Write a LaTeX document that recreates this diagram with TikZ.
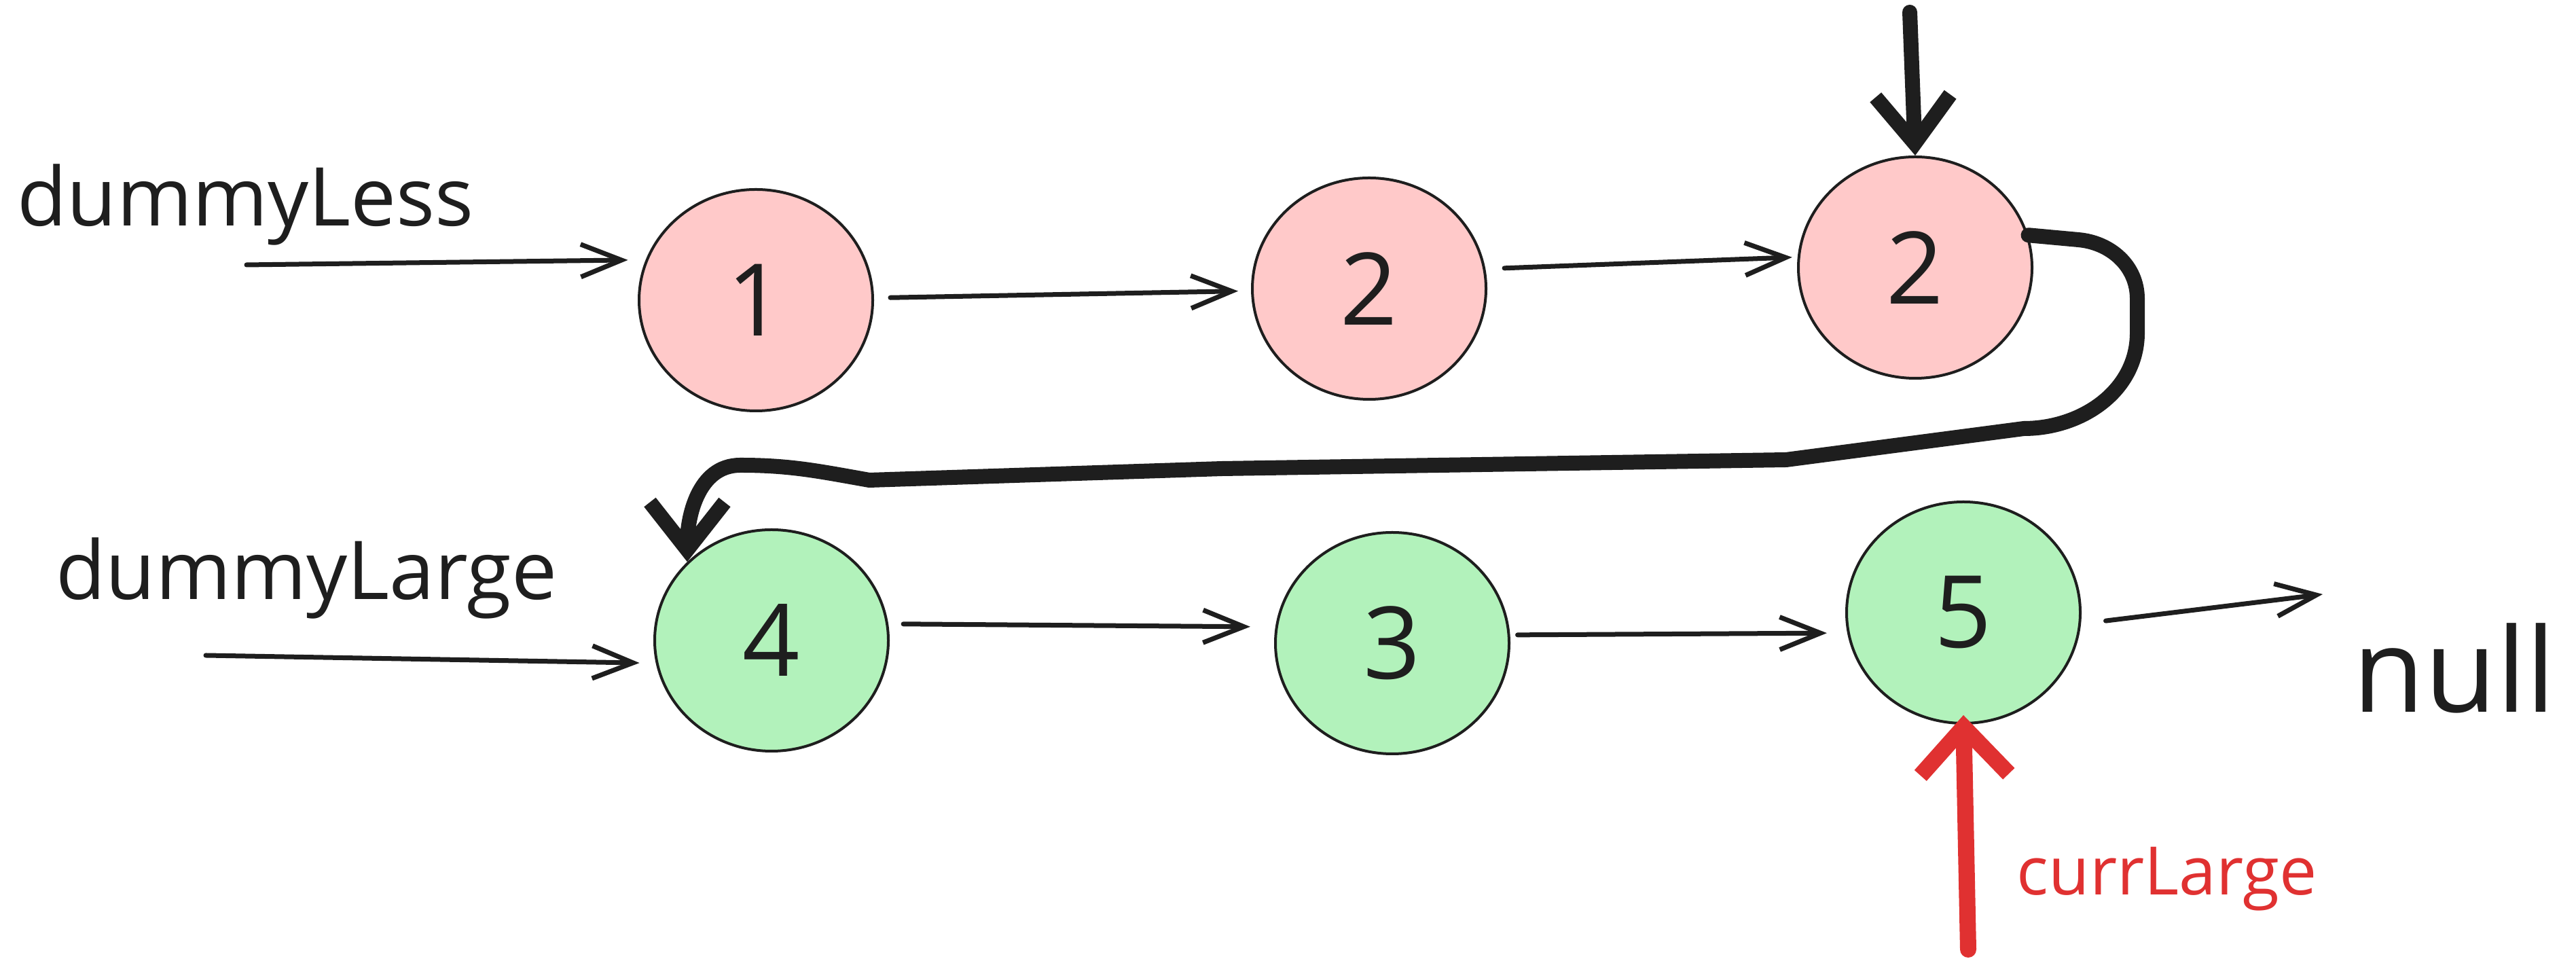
\documentclass[tikz,border=0pt]{standalone}
\usepackage{fontspec}
\setmainfont{Open Sans}
\usepackage{tikz}
\usetikzlibrary{shapes.geometric, arrows.meta, positioning}
\definecolor{inkdark}{HTML}{1E1E1E}
\definecolor{lesspink}{HTML}{FFC9C9}
\definecolor{largegreen}{HTML}{B2F2BB}
\definecolor{pointred}{HTML}{E03131}

\begin{document}
\begin{tikzpicture}[
    listnode/.style={ellipse, draw=inkdark, line width=0.04cm, minimum width=3.44cm, minimum height=3.26cm, inner sep=0pt, text=inkdark, font=\fontsize{42}{50}\selectfont},
    lessnode/.style={listnode, fill=lesspink},
    largenode/.style={listnode, fill=largegreen},
    tag/.style={anchor=base west, inner sep=0pt, text=inkdark, font=\fontsize{34}{40}\selectfont},
    link/.style={draw=inkdark, line width=0.07cm, line cap=round, -{Straight Barb[length=0.6cm, width=0.48cm]}},
    jump/.style={draw=inkdark, line width=0.22cm, line cap=round, line join=round, -{Straight Barb[length=0.7cm, width=1.1cm]}},
    pointer/.style={draw=pointred, line width=0.24cm, line cap=round, -{Straight Barb[length=0.7cm, width=1.3cm]}}
]
    \useasboundingbox[fill=white] (0,0) rectangle (37.93,14.15);

    % less list
    \node[lessnode] (n1) at (11.13, 9.73) {1};
    \node[lessnode] (n2) at (20.16, 9.90) {2};
    \node[lessnode] (n3) at (28.20, 10.21) {2};

    % large list
    \node[largenode] (m1) at (11.36, 4.72) {4};
    \node[largenode] (m2) at (20.50, 4.68) {3};
    \node[largenode] (m3) at (28.91, 5.13) {5};

    % labels
    \node[tag] (lbless) at (0.25, 10.82) {dummyLess};
    \node[tag] (lblarge) at (0.82, 5.32) {dummyLarge};
    \node[tag, font=\fontsize{49}{56}\selectfont] (lbnull) at (34.64, 3.66) {null};
    \node[tag, text=pointred, font=\fontsize{28}{34}\selectfont] (lbcurr) at (29.69, 0.97) {currLarge};

    % free ends
    \coordinate (lessin) at (3.63, 10.25);
    \coordinate (largein) at (3.03, 4.50);
    \coordinate (nullin) at (34.20, 5.40);
    \coordinate (toptail) at (28.12, 13.97);
    \coordinate (currtail) at (28.98, 0.17);

    \draw[link] (lessin) -- ([xshift=-2.6mm]n1.160);
    \draw[link, shorten <=2.4mm, shorten >=1.9mm] (n1) -- (n2);
    \draw[link] ([xshift=2.8mm]n2.10) -- ([xshift=-0.8mm]n3.175);
    \draw[link] (largein) -- ([xshift=-2.4mm]m1.191);
    \draw[link] ([xshift=2.2mm]m1.8) -- ([xshift=-3.7mm]m2.172);
    \draw[link] ([xshift=1.1mm]m2.4) -- ([xshift=-3mm]m3.190);
    \draw[link] ([xshift=3.6mm]m3.356) -- (nullin);

    \draw[jump] (toptail) -- (n3.north);
    \draw[jump] (n3.16) -- (30.6, 10.62) to[out=-5, in=90] (31.47, 9.75) -- (31.47, 9.25)
        to[out=-90, in=0] (29.8, 7.84) -- (26.3, 7.38) -- (18.0, 7.25) -- (12.8, 7.08)
        to[out=170, in=0] (10.9, 7.30) to[out=180, in=90] (m1.137);

    \draw[pointer] (currtail) -- ([yshift=1.4mm]m3.south);
\end{tikzpicture}
\end{document}
